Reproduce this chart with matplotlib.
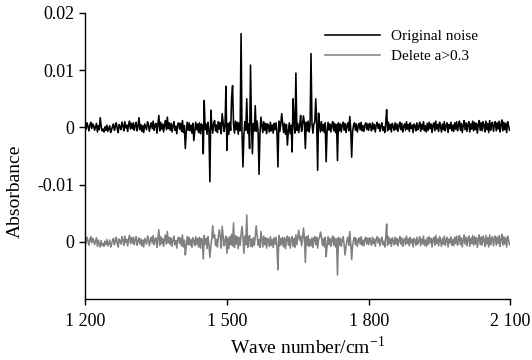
import matplotlib
matplotlib.use("Agg")
import matplotlib.pyplot as plt
import numpy as np

plt.rcParams['font.family'] = ['Liberation Serif', 'DejaVu Serif']
plt.rcParams['mathtext.fontset'] = 'custom'
plt.rcParams['mathtext.rm'] = 'Liberation Serif'

# wave number grid, cm-1
wn_start, wn_step = 1200, 2
wave_numbers = np.arange(wn_start, 2100, wn_step)

# baseline noise, units of 1e-4 absorbance (one row = 60 cm-1)
noise = [
    5, -3, 8, 2, -6, 4, 9, -2, 6, 3, -5, 1, 7, -8, 3, -4, -9, 2, -6, -3, -8, 1, -5, 4, -7, -2, 3, -9, -4, 2,
    6, -5, 2, 8, -3, -9, 5, 1, -4, 9, 3, -6, 10, -1, 4, -7, 5, 11, -3, 7, -2, 8, -5, 3, 9, -6, 2, 7, -4, 5,
    -7, 3, -9, 6, 1, -4, 10, 5, -7, 2, 8, -2, 11, -5, 4, 7, -10, 5, 1, -6, 9, -3, 6, -8, 3, 12, -4, 6, -2, 8,
    -5, 7, -8, 3, 10, -5, 2, -11, 6, 8, -3, 7, -7, 12, -9, 3, 5, -8, 9, -5, 8, -6, 4, -10, 7, 2, -7, 9, -4, 6,
    -9, 8, -11, 6, 3, -7, 11, -4, 6, -12, 9, -5, 13, -8, 5, -10, 7, 12, -6, 4, -9, 10, -3, 8, -11, 6, 9, -7, 3, 10,
    -8, 7, -12, 9, -5, 13, -7, 6, -10, 11, -4, 9, -12, 8, -6, 12, -9, 7, -13, 10, -5, 8, -10, 6, 11, -8, 5, -9, 7, -6,
    9, -7, 11, -6, 4, -10, 8, 5, -9, 10, -5, 7, -11, 6, 3, -8, 9, -6, 4, -10, 7, -4, 8, -9, 5, 11, -7, 6, -5, 8,
    -9, 7, -12, 5, 10, -6, 8, -11, 4, 9, -8, 6, -10, 12, -5, 7, -9, 3, 10, -7, 5, -12, 8, -4, 9, -6, 11, -8, 4, -7,
    7, -10, 6, 9, -5, 8, -11, 4, 7, -8, 10, -6, 5, -9, 8, 3, -7, 9, -5, 6, -8, 4, 10, -6, 7, -9, 5, -4, 8, -6,
    6, -8, 4, 9, -5, 7, -9, 3, 8, -6, 5, -3, 9, -7, 4, 8, -5, 6, -8, 2, 7, -4, 9, -6, 3, -7, 5, 8, -4, 6,
    -5, 7, 2, -6, 8, -3, 5, -8, 4, 9, -2, 6, -7, 3, 8, -5, 1, -9, 6, 4, -6, 9, -3, 5, -8, 7, 2, -5, 8, -4,
    6, -7, 3, 9, -4, 7, -8, 2, 6, -5, 10, -3, 5, -7, 8, -2, 4, -9, 6, 3, -6, 8, -4, 2, 9, -7, 5, -3, 10, -6,
    3, -8, 7, -5, 9, -2, 6, -9, 4, 8, -6, 11, -3, 5, -7, 9, 2, -8, 6, -4, 10, -6, 3, 8, -9, 5, -2, 9, -6, 4,
    -7, 8, -3, 10, -6, 4, 11, -5, 7, -9, 3, 12, -4, 8, -7, 5, 10, -8, 6, -3, 11, -6, 9, -4, 7, -10, 5, 12, -5, 8,
    -6, 10, 4, -8, 11, -4, 7, -9, 12, -5, 6, 9, -7, 4, 10, -6, 8, -3, 11, -8, 5, 13, -6, 9, -4, 7, -9, 10, 3, -5,
]

# spikes of the original noise (1e-4)
orig_spike_wn = [1232, 1314, 1356, 1374, 1412, 1430, 1450, 1452, 1464, 1466,
                 1490, 1498, 1500, 1510, 1512, 1530, 1534, 1542, 1548, 1550,
                 1554, 1560, 1568, 1572, 1608, 1616, 1628, 1638, 1640, 1646,
                 1656, 1662, 1666, 1678, 1688, 1692, 1694, 1710, 1734, 1760,
                 1764, 1838]
orig_spike_val = [17, 17, 21, 18, -37, -23, -46, 47, -95, 30,
                  24, 72, -40, 52, 73, 164, -69, 50, -37, 109,
                  -46, 38, -82, 18, -69, 24, -31, -43, 50, 95,
                  21, 20, -37, 129, 50, -75, 25, -60, -58, 19,
                  -52, 31]

# spikes left after deleting a>0.3 (1e-4)
del_spike_wn = [1356, 1374, 1412, 1450, 1464, 1470, 1484, 1490, 1500, 1514,
                1532, 1536, 1542, 1562, 1572, 1608, 1652, 1662, 1666, 1698,
                1710, 1734, 1750, 1760, 1764, 1838]
del_spike_val = [21, 18, -23, -30, -27, 28, 21, 27, -20, 33,
                 27, -20, 47, 28, 18, -49, 20, 24, -36, 17,
                 -26, -58, -23, 18, -31, 31]

offset = -0.02

base = np.array(noise, dtype=float)
original = base.copy()
original[(np.array(orig_spike_wn) - wn_start) // wn_step] = orig_spike_val
deleted = base.copy()
deleted[(np.array(del_spike_wn) - wn_start) // wn_step] = del_spike_val
original = original * 1e-4
deleted = deleted * 1e-4 + offset

fig = plt.figure(figsize=(5.32, 3.60), dpi=100)
ax = fig.add_axes([0.16, 0.1694, 0.7995, 0.7945])

ax.plot(wave_numbers, original, color='black', lw=1.15, label='Original noise')
ax.plot(wave_numbers, deleted, color='#808080', lw=1.15, label='Delete a>0.3')

ax.set_xlim(1200, 2100)
ax.set_ylim(-0.03, 0.02)
ax.set_xticks([1200, 1500, 1800, 2100])
ax.set_xticklabels(['1 200', '1 500', '1 800', '2 100'])
ax.set_yticks([0.02, 0.01, 0, -0.01, -0.02])
ax.set_yticklabels(['0.02', '0.01', '0', '-0.01', '0'])

for s in ['top', 'right']:
    ax.spines[s].set_visible(False)
for s in ['left', 'bottom']:
    ax.spines[s].set_linewidth(1.0)
ax.tick_params(direction='out', length=4, width=1.0, labelsize=13)
ax.tick_params(axis='x', pad=6)

ax.set_xlabel('Wave number/cm$^{\\mathrm{-1}}$', fontsize=14)
ax.set_ylabel('Absorbance', fontsize=14)
ax.xaxis.set_label_coords(0.522, -0.128)
ax.yaxis.set_label_coords(-0.145, 0.378)

ax.legend(loc='upper left', bbox_to_anchor=(0.611, 0.919), bbox_transform=fig.transFigure,
          frameon=False, fontsize=11, handlelength=3.6, handletextpad=0.72,
          labelspacing=0.45, borderpad=0, borderaxespad=0)

fig.savefig('out.png', dpi=100)
